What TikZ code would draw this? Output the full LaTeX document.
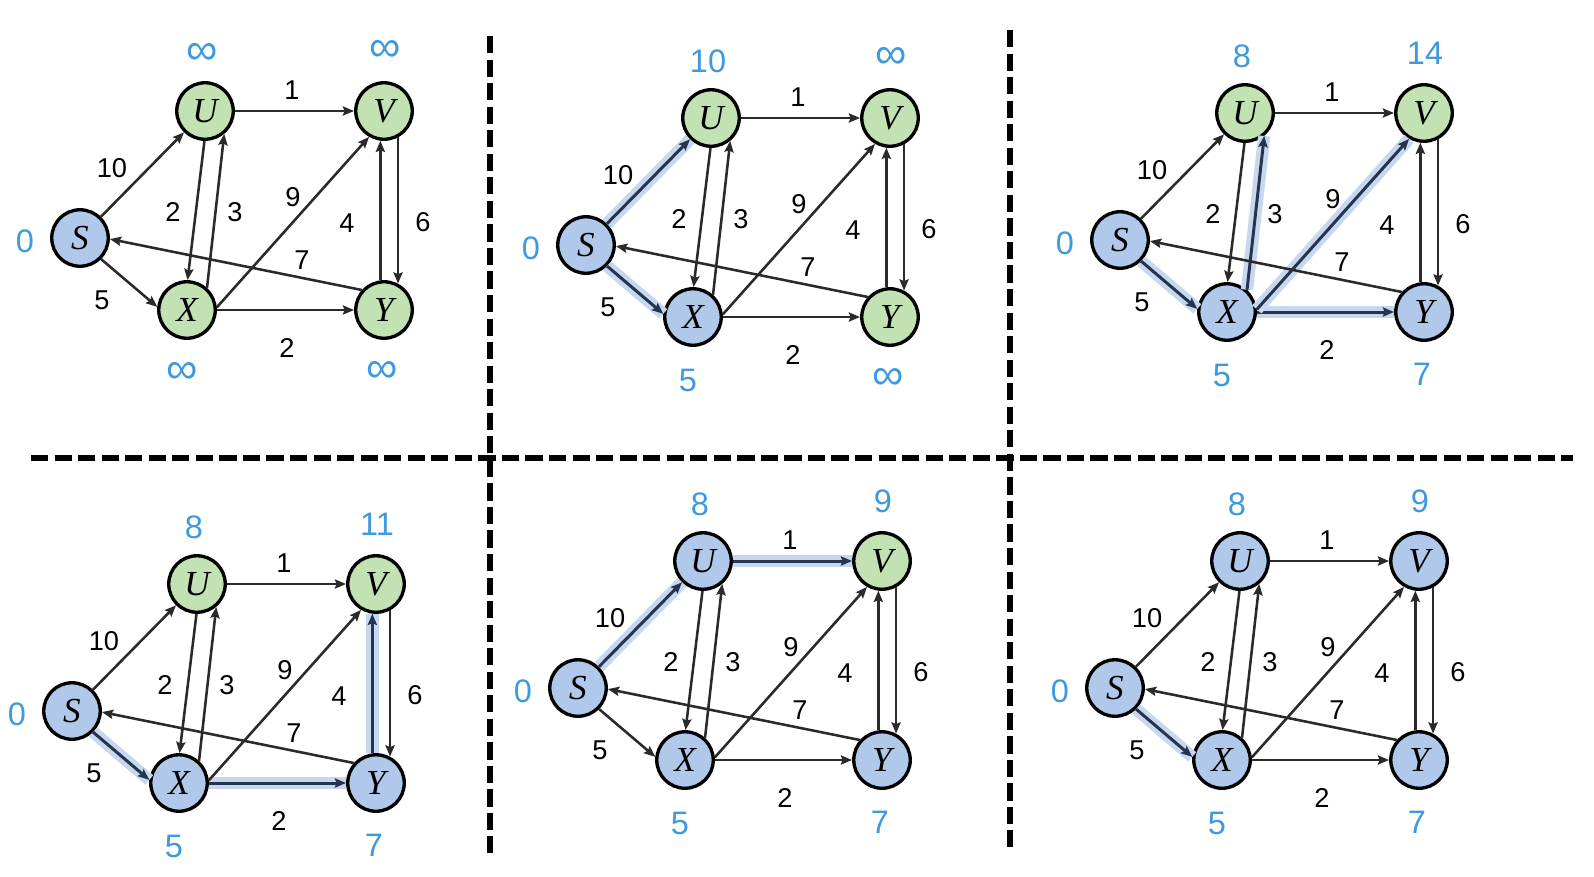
\documentclass[tikz,border=0pt]{standalone}
\usepackage{fontspec}
\setmainfont{Liberation Sans}
\newfontfamily\vtxfont{Liberation Serif}
\usepackage{tikz}
\usetikzlibrary{arrows.meta}
\definecolor{seenblue}{HTML}{B0C8EA}
\definecolor{opengreen}{HTML}{C3E2B3}
\definecolor{distblue}{HTML}{3E99DD}
\definecolor{edgegray}{HTML}{2A2A2A}
\definecolor{navy}{HTML}{27344D}
\definecolor{glow}{HTML}{C6D7F0}
\newcommand{\infy}{{\fontsize{25}{25}\selectfont ∞}}

% one Dijkstra step: #1 prefix, #2-#5 fills of U V X Y, #6-#9 distances of U V X Y
\newcommand{\dpanel}[9]{%
  \node[vtx, seen] (#1S) at (0,0) {S};
  \node[vtx, #2] (#1U) at (125,-127) {U};
  \node[vtx, #3] (#1V) at (304,-127) {V};
  \node[vtx, #4] (#1X) at (107,72) {X};
  \node[vtx, #5] (#1Y) at (304,72) {Y};
  \draw[arrow, #1SU/.try] (#1S) -- (#1U);
  \draw[arrow, #1SX/.try] (#1S.-45) -- (#1X.174);
  \draw[arrow, #1UV/.try] (#1U) -- (#1V);
  \draw[arrow, #1XY/.try] (#1X) -- (#1Y);
  \draw[arrow, #1UX/.try] (#1U.269) -- (#1X.89);
  \draw[arrow, #1XU/.try] (#1X.48) -- (#1U.-50);
  \draw[arrow, #1XV/.try] (#1X.5) -- (#1V.240);
  \draw[arrow, #1VY/.try] (#1V.-62) -- (#1Y.62);
  \draw[arrow, #1YV/.try] (#1Y.97) -- (#1V.263);
  \draw[arrow, #1YS/.try] (#1Y.138) -- (#1S.-2);
  \node[wt] (#1wSU) at (32,-70) {10};
  \node[wt] (#1wUV) at (212,-148) {1};
  \node[wt] (#1wUX) at (93,-26) {2};
  \node[wt] (#1wXU) at (155,-26) {3};
  \node[wt] (#1wXV) at (213,-41) {9};
  \node[wt] (#1wYV) at (267,-15) {4};
  \node[wt] (#1wVY) at (343,-16) {6};
  \node[wt] (#1wYS) at (222,22) {7};
  \node[wt] (#1wSX) at (22,62) {5};
  \node[wt] (#1wXY) at (207,110) {2};
  \node[dist] (#1dS) at (-55,3) {0};
  \node[dist] (#1dU) at (122,-184) {#6};
  \node[dist] (#1dV) at (305,-187) {#7};
  \node[dist] (#1dX) at (102,135) {#8};
  \node[dist] (#1dY) at (302,134) {#9};
}

\begin{document}
\begin{tikzpicture}[
  x=0.02cm, y=-0.02cm,
  vtx/.style={circle, draw=black, line width=1.9pt, minimum size=1.13cm, inner sep=0pt,
              font=\vtxfont\itshape\fontsize{20}{20}\selectfont},
  seen/.style={fill=seenblue},
  open/.style={fill=opengreen},
  arrow/.style={->, >={Stealth[length=6.4pt, width=5.2pt, inset=1pt]}, line width=1.45pt, draw=edgegray},
  hot/.style={draw=navy, line width=1.7pt, preaction={draw=glow, line width=7pt, -}},
  wt/.style={font=\fontsize{15.5}{15.5}\selectfont, inner sep=0pt},
  dist/.style={font=\fontsize{18.5}{18.5}\selectfont, text=distblue, inner sep=0pt},
  sep/.style={line width=2.9pt, dash pattern=on 9.8pt off 3.6pt}
]
\useasboundingbox (0,0) rectangle (1594,876);

% --- separators ---
\draw[sep] (31,458) -- (1573,458);
\draw[sep] (490,36) -- (490,853);
\draw[sep] (1010,30) -- (1010,847);

% --- step 1 ---
\begin{scope}[shift={(80,238)}]
  \dpanel{a}{open}{open}{open}{open}{\infy}{\infy}{\infy}{\infy}
\end{scope}

% --- step 2 ---
\tikzset{bSU/.style=hot, bSX/.style=hot}
\begin{scope}[shift={(586,245)}]
  \dpanel{b}{open}{open}{seen}{open}{10}{\infy}{5}{\infy}
\end{scope}

% --- step 3 ---
\tikzset{cSX/.style=hot, cXU/.style=hot, cXV/.style=hot, cXY/.style=hot}
\begin{scope}[shift={(1120,240)}]
  \dpanel{c}{open}{open}{seen}{seen}{8}{14}{5}{7}
\end{scope}

% --- step 4 ---
\tikzset{dSX/.style=hot, dXY/.style=hot, dYV/.style=hot}
\begin{scope}[shift={(72,711)}]
  \dpanel{d}{open}{open}{seen}{seen}{8}{11}{5}{7}
\end{scope}

% --- step 5 ---
\tikzset{eSU/.style=hot, eUV/.style=hot}
\begin{scope}[shift={(578,688)}]
  \dpanel{e}{seen}{open}{seen}{seen}{8}{9}{5}{7}
\end{scope}

% --- step 6 ---
\tikzset{fSX/.style=hot}
\begin{scope}[shift={(1115,688)}]
  \dpanel{f}{seen}{seen}{seen}{seen}{8}{9}{5}{7}
\end{scope}

\end{tikzpicture}
\end{document}
